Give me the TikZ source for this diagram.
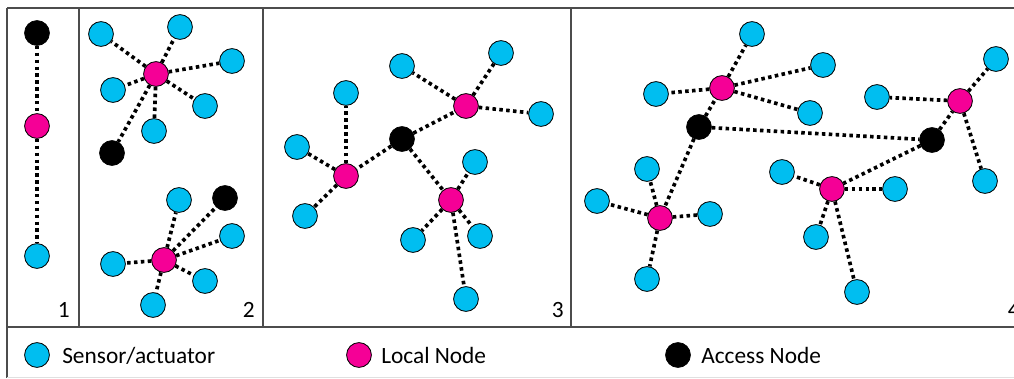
\documentclass[tikz,border=0pt]{standalone}
\usepackage{fontspec}
\setmainfont{Carlito}
\usepackage{tikz}
\definecolor{sensorblue}{RGB}{0,190,240}
\definecolor{localpink}{RGB}{245,0,150}

\begin{document}
\begin{tikzpicture}[x=0.025cm,y=-0.025cm,
  sensor/.style={circle,draw=black,line width=0.6pt,fill=sensorblue,minimum size=0.62cm,inner sep=0pt},
  localnode/.style={sensor,fill=localpink},
  access/.style={sensor,fill=black},
  link/.style={line width=2.6pt,dash pattern=on 2.5pt off 2.4pt},
  frame/.style={draw=black!70,line width=1pt},
  lbl/.style={inner sep=0pt,font=\fontsize{16.6}{19}\selectfont}]
\useasboundingbox (0,0) rectangle (1014,378);

% panel borders and legend strip
\draw[frame] (7,8) -- (1030,8);
\draw[frame] (7,8) -- (7,378);
\draw[frame] (79,8) -- (79,327);
\draw[frame] (263,8) -- (263,327);
\draw[frame] (571,8) -- (571,327);
\draw[frame,line width=1.5pt] (7,327) -- (1030,327);
\draw[black!12] (7,377) -- (1030,377);

% 1: single chain
\node[access] (oneA) at (37,33) {};
\node[localnode] (oneL) at (37,126) {};
\node[sensor] (oneS) at (37,256) {};
\draw[link] (oneA) -- (oneL) -- (oneS);
\node[lbl,anchor=base east] (num1) at (70,317) {1};

% 2: two stars, each with its own access node
\node[localnode] (twoU) at (156,74) {};
\foreach \x/\y [count=\i] in {101/34,180/27,232/61,113/90,205/106,154/131} {
  \node[sensor] (twoU\i) at (\x,\y) {};
  \draw[link] (twoU) -- (twoU\i);
}
\node[access] (twoUA) at (112,153) {};
\draw[link] (twoU) -- (twoUA);

\node[localnode] (twoD) at (164,260) {};
\foreach \x/\y [count=\i] in {179/200,232/236,113/264,205/281,153/305} {
  \node[sensor] (twoD\i) at (\x,\y) {};
  \draw[link] (twoD) -- (twoD\i);
}
\node[access] (twoDA) at (225,198) {};
\draw[link] (twoD) -- (twoDA);
\node[lbl,anchor=base east] (num2) at (255,317) {2};

% 3: one access node, three local nodes
\node[access] (threeA) at (402,139) {};
\node[localnode] (threeL1) at (466,106) {};
\node[localnode] (threeL2) at (346,176) {};
\node[localnode] (threeL3) at (451,200) {};
\foreach \k in {1,2,3}
  \draw[link] (threeA) -- (threeL\k);
\foreach \x/\y [count=\i] in {402/66,501/53,541/114} {
  \node[sensor] (threeS1\i) at (\x,\y) {};
  \draw[link] (threeL1) -- (threeS1\i);
}
\foreach \x/\y [count=\i] in {346/93,297/147,305/216} {
  \node[sensor] (threeS2\i) at (\x,\y) {};
  \draw[link] (threeL2) -- (threeS2\i);
}
\foreach \x/\y [count=\i] in {475/162,413/240,480/236,466/299} {
  \node[sensor] (threeS3\i) at (\x,\y) {};
  \draw[link] (threeL3) -- (threeS3\i);
}
\node[lbl,anchor=base east] (num3) at (564,317) {3};

% 4: two access nodes linked together
\node[access] (fourA1) at (699,127) {};
\node[access] (fourA2) at (932,140) {};
\node[localnode] (fourL1) at (722,88) {};
\node[localnode] (fourL2) at (660,218) {};
\node[localnode] (fourL3) at (960,101) {};
\node[localnode] (fourL4) at (832,189) {};
\draw[link] (fourA1) -- (fourA2);
\draw[link] (fourA1) -- (fourL1);
\draw[link] (fourA1) -- (fourL2);
\draw[link] (fourA2) -- (fourL3);
\draw[link] (fourA2) -- (fourL4);
\foreach \x/\y [count=\i] in {752/34,823/65,656/94,810/113} {
  \node[sensor] (fourS1\i) at (\x,\y) {};
  \draw[link] (fourL1) -- (fourS1\i);
}
\foreach \x/\y [count=\i] in {647/169,597/201,710/214,647/279} {
  \node[sensor] (fourS2\i) at (\x,\y) {};
  \draw[link] (fourL2) -- (fourS2\i);
}
\foreach \x/\y [count=\i] in {996/59,877/97,985/181} {
  \node[sensor] (fourS3\i) at (\x,\y) {};
  \draw[link] (fourL3) -- (fourS3\i);
}
\foreach \x/\y [count=\i] in {782/172,895/189,816/237,857/292} {
  \node[sensor] (fourS4\i) at (\x,\y) {};
  \draw[link] (fourL4) -- (fourS4\i);
}
\node[lbl,anchor=base east] (num4) at (1020,317) {4};

% legend
\node[sensor] (keyS) at (37,355) {};
\node[lbl,anchor=base west] (txtS) at (62,363) {Sensor/actuator};
\node[localnode] (keyL) at (359,355) {};
\node[lbl,anchor=base west] (txtL) at (381,363) {Local Node};
\node[access] (keyA) at (678,355) {};
\node[lbl,anchor=base west] (txtA) at (701,363) {Access Node};
\end{tikzpicture}
\end{document}
